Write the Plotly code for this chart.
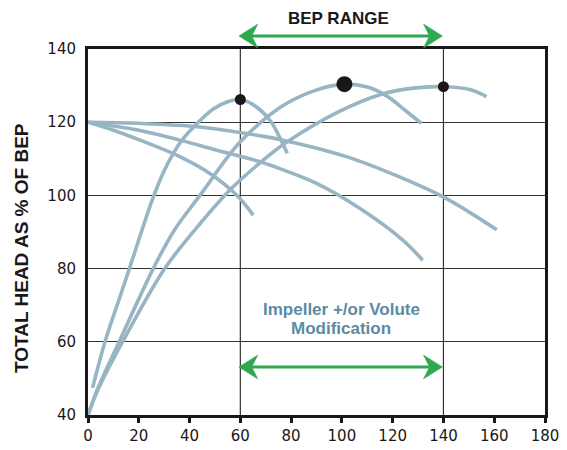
import plotly.graph_objects as go

# ---- data ----
r1_x = [1.8, 6.7, 12.6, 16.3, 25.7, 29.5, 33.6, 37.5, 41.5, 49.3, 55, 60, 65, 71.6, 76.3, 78.5]
r1_y = [47.4, 60, 72.3, 80, 99.5, 106, 111.5, 115.5, 118.6, 123.6, 125.6, 126.2, 124.8, 120.6, 114.7, 111.5]

r2_x = [0, 4, 12.6, 25.7, 34, 44.1, 59.8, 75.6, 88.7, 101, 110, 117.6, 125, 131.3]
r2_y = [40, 47.5, 60.5, 80, 90.5, 100, 114.5, 124, 128.5, 130.4, 129.6, 127.2, 123.2, 119.7]

r3_x = [0, 4, 14, 29.7, 40.2, 55.9, 67.6, 78.2, 99.2, 115, 128, 140, 150, 157]
r3_y = [40, 47, 60.5, 79.5, 89, 101.5, 108.8, 114.5, 123, 127.5, 129.3, 129.7, 129, 127]

f1_x = [0, 10, 20.5, 34.9, 48, 58.5, 65.1]
f1_y = [120, 117.8, 115.1, 111, 106, 100.1, 94.6]

f2_x = [0, 20, 36.2, 50, 67.7, 75.6, 90, 107, 124, 131.8]
f2_y = [120, 117.8, 115.1, 112.5, 109.2, 107.3, 103.3, 96.5, 87.8, 82.3]

f3_x = [0, 20, 44, 67.7, 75.6, 101.8, 121.5, 139.9, 150, 161]
f3_y = [120, 119.7, 118.7, 116.3, 115.3, 110.6, 105.4, 99.6, 95.5, 90.6]

bep_x = [60, 101, 140]
bep_y = [126.2, 130.4, 129.7]
bep_size = [11, 16, 11]

bep_range = [60, 140]
x_ticks = [0, 20, 40, 60, 80, 100, 120, 140, 160, 180]
y_ticks = [40, 60, 80, 100, 120, 140]

# ---- layout geometry (screen pixels; the page body adds an 8px offset) ----
OFF = 8
W, H = 567 - OFF, 450 - OFF
ML, MT = 88 - OFF, 49 - OFF
PW, PH = 457, 366
MR = W - ML - PW
MB = H - MT - PH
XMIN, XMAX, YMIN, YMAX = 0, 180, 40, 140

def px_to_paper_x(px):
    return (px - OFF - ML) / PW

def py_to_paper_y(py):
    return (MT + PH - (py - OFF)) / PH

def data_x_to_px(x):
    return OFF + ML + (x - XMIN) / (XMAX - XMIN) * PW

CURVE = '#98b5c4'
GREEN = '#2fa84f'
INK = '#1a1718'
BLUE_TXT = '#5b8ba3'

fig = go.Figure()
for xs, ys in [(f1_x, f1_y), (f2_x, f2_y), (f3_x, f3_y), (r1_x, r1_y), (r2_x, r2_y), (r3_x, r3_y)]:
    fig.add_trace(go.Scatter(x=xs, y=ys, mode='lines',
                             line=dict(color=CURVE, width=3.6, shape='spline', smoothing=1.0),
                             hoverinfo='skip', showlegend=False))

fig.add_trace(go.Scatter(x=bep_x, y=bep_y, mode='markers',
                         marker=dict(color=INK, size=bep_size, line=dict(width=0), opacity=1),
                         showlegend=False, cliponaxis=False))

shapes = []
for v in bep_range:
    shapes.append(dict(type='line', xref='x', yref='paper', x0=v, x1=v, y0=0, y1=1,
                       line=dict(color='#333333', width=1.2), layer='below'))

def double_arrow(py):
    x0 = data_x_to_px(bep_range[0]) - 1.5
    x1 = data_x_to_px(bep_range[1]) - 1
    hl, hh, notch = 19, 12, 13
    out = []
    out.append(dict(type='line', xref='paper', yref='paper',
                    x0=px_to_paper_x(x0 + notch), x1=px_to_paper_x(x1 - notch),
                    y0=py_to_paper_y(py), y1=py_to_paper_y(py),
                    line=dict(color=GREEN, width=3)))
    for tip, d in [(x0, 1), (x1, -1)]:
        pts = [(tip, py), (tip + d * hl, py - hh), (tip + d * notch, py), (tip + d * hl, py + hh)]
        path = 'M ' + ' L '.join(f'{px_to_paper_x(a):.5f},{py_to_paper_y(b):.5f}' for a, b in pts) + ' Z'
        out.append(dict(type='path', xref='paper', yref='paper', path=path,
                        fillcolor=GREEN, line=dict(color=GREEN, width=0.5)))
    return out

shapes += double_arrow(36)
shapes += double_arrow(367)

def label(text, px, py, size, color, angle=0):
    return dict(text=text, xref='paper', yref='paper', x=px_to_paper_x(px), y=py_to_paper_y(py),
                showarrow=False, textangle=angle,
                font=dict(family='Liberation Sans', size=size, color=color, weight='bold'),
                xanchor='center', yanchor='middle')

annotations = [
    label('BEP RANGE', 338, 18, 17, INK),
    label('Impeller +/or Volute', 341, 309, 17, BLUE_TXT),
    label('Modification', 341, 328, 17, BLUE_TXT),
    label('TOTAL HEAD AS % OF BEP', 21, 248, 19, INK, -90),
]

fig.update_layout(
    width=W, height=H,
    margin=dict(l=ML, r=MR, t=MT, b=MB, pad=0, autoexpand=False),
    paper_bgcolor='white', plot_bgcolor='white',
    shapes=shapes, annotations=annotations,
    showlegend=False,
    xaxis=dict(range=[XMIN, XMAX], tickvals=x_ticks, showgrid=False, zeroline=False,
               showline=True, linecolor=INK, linewidth=3, mirror=True, automargin=False,
               ticks='outside', ticklen=5, tickwidth=3, tickcolor=INK,
               tickfont=dict(family='DejaVu Sans', size=15, color=INK), fixedrange=True),
    yaxis=dict(range=[YMIN, YMAX], tickvals=y_ticks, showgrid=True, gridcolor='#333333', gridwidth=1.2,
               zeroline=False, showline=True, linecolor=INK, linewidth=3, mirror=True, automargin=False,
               ticks='', ticklabelstandoff=6,
               tickfont=dict(family='DejaVu Sans', size=15, color=INK), fixedrange=True),
)

fig.write_html('out.html')
